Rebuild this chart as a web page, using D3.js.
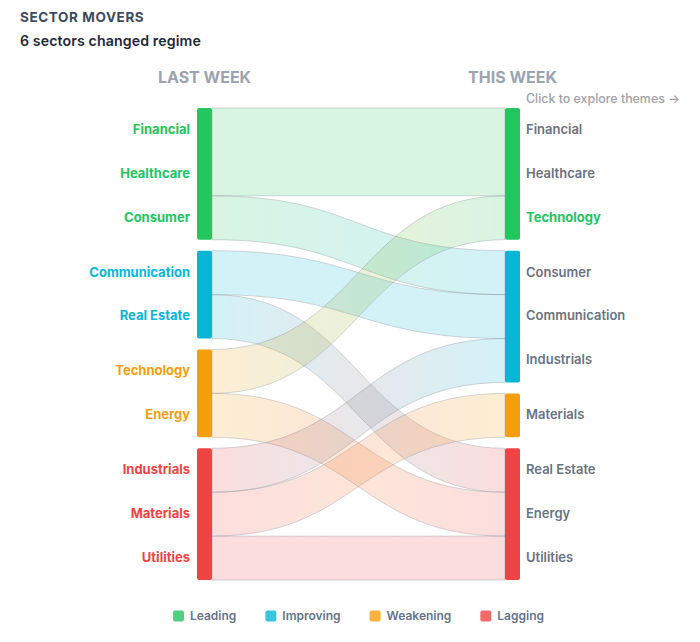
<!DOCTYPE html>
<html>
<head>
<meta charset="utf-8">
<script src="https://cdn.jsdelivr.net/npm/d3@7"></script>
<style>
  html, body { margin: 0; padding: 0; background: #fff; }
  svg { display: block; font-family: Inter, "Noto Sans", sans-serif; }
</style>
</head>
<body>
<div id="chart"></div>
<script>
// regimes and their colours
const regimes = ['Leading', 'Improving', 'Weakening', 'Lagging'];
const regimeColors = ['#22c55e', '#06b6d4', '#f59e0b', '#ef4444'];

// sectors in last-week order, with their regime last week and this week
const sectors = ['Financial', 'Healthcare', 'Consumer', 'Communication', 'Real Estate',
    'Technology', 'Energy', 'Industrials', 'Materials', 'Utilities'];
const lastWeekRegime = ['Leading', 'Leading', 'Leading', 'Improving', 'Improving',
    'Weakening', 'Weakening', 'Lagging', 'Lagging', 'Lagging'];
const thisWeekRegime = ['Leading', 'Leading', 'Improving', 'Improving', 'Lagging',
    'Leading', 'Lagging', 'Improving', 'Weakening', 'Lagging'];

const width = 700;
const height = 642;
const colorOf = d3.scaleOrdinal().domain(regimes).range(regimeColors);

const xLeft = 197, xRight = 505, barW = 15;
const gapUnits = 0.25;
const totalUnits = sectors.length + gapUnits * (regimes.length - 1);
const y = d3.scaleLinear().domain([0, totalUnits]).range([108, 580]);

const svg = d3.select('#chart')
    .append('svg')
    .attr('width', width)
    .attr('height', height);

// titles
svg.append('text')
    .attr('x', 20).attr('y', 22)
    .attr('font-size', 13.5).attr('font-weight', 700)
    .attr('letter-spacing', 0.6)
    .attr('fill', '#3f4a5c')
    .text('SECTOR MOVERS');
svg.append('text')
    .attr('x', 20).attr('y', 46)
    .attr('font-size', 14.2).attr('font-weight', 600)
    .attr('letter-spacing', 0.1)
    .attr('fill', '#1f2937')
    .text('6 sectors changed regime');

svg.append('text')
    .attr('x', xLeft + barW / 2).attr('y', 83)
    .attr('text-anchor', 'middle')
    .attr('font-size', 16).attr('font-weight', 700)
    .attr('fill', '#9ca3af')
    .text('LAST WEEK');
svg.append('text')
    .attr('x', xRight + barW / 2).attr('y', 83)
    .attr('text-anchor', 'middle')
    .attr('font-size', 16).attr('font-weight', 700)
    .attr('fill', '#9ca3af')
    .text('THIS WEEK');
svg.append('text')
    .attr('x', 526).attr('y', 103)
    .attr('font-size', 12.4).attr('font-weight', 500)
    .attr('fill', '#a1a1aa')
    .text('Click to explore themes \u2192');

// lay out one column: each sector gets one unit, regimes separated by a gap
function layout(regimeOf) {
    const order = [];
    regimes.forEach(r => {
        sectors.forEach((s, i) => { if (regimeOf[i] === r) order.push(i); });
    });
    const pos = {};
    const nodes = [];
    let u = 0;
    regimes.forEach(r => {
        const members = order.filter(i => regimeOf[i] === r);
        if (!members.length) return;
        const start = u;
        members.forEach(i => { pos[i] = u; u += 1; });
        nodes.push({ regime: r, u0: start, u1: u });
        u += gapUnits;
    });
    return { pos, nodes };
}

const left = layout(lastWeekRegime);
const right = layout(thisWeekRegime);

// aggregate flows regime -> regime
const links = d3.rollups(
    sectors.map((s, i) => i),
    idx => ({
        src: lastWeekRegime[idx[0]],
        tgt: thisWeekRegime[idx[0]],
        u0: d3.min(idx, i => left.pos[i]),
        v0: d3.min(idx, i => right.pos[i]),
        n: idx.length
    }),
    i => lastWeekRegime[i] + '>' + thisWeekRegime[i]
).map(d => d[1]);

const defs = svg.append('defs');
const x0 = xLeft + barW, x1 = xRight, xm = (x0 + x1) / 2;

links.forEach((l, k) => {
    const g = defs.append('linearGradient')
        .attr('id', 'lg' + k)
        .attr('gradientUnits', 'userSpaceOnUse')
        .attr('x1', x0).attr('x2', x1).attr('y1', 0).attr('y2', 0);
    g.append('stop').attr('offset', '0%').attr('stop-color', colorOf(l.src));
    g.append('stop').attr('offset', '100%').attr('stop-color', colorOf(l.tgt));
    l.id = 'lg' + k;
});

function ribbon(l) {
    const a0 = y(l.u0), a1 = y(l.u0 + l.n);
    const b0 = y(l.v0), b1 = y(l.v0 + l.n);
    return `M${x0},${a0}C${xm},${a0} ${xm},${b0} ${x1},${b0}` +
        `L${x1},${b1}C${xm},${b1} ${xm},${a1} ${x0},${a1}Z`;
}

svg.append('g')
    .selectAll('path')
    .data(links)
    .join('path')
    .attr('d', ribbon)
    .attr('fill', d => `url(#${d.id})`)
    .attr('fill-opacity', 0.18)
    .attr('stroke', '#8a8f99')
    .attr('stroke-opacity', 0.45)
    .attr('stroke-width', 0.8);

// node bars
function drawBars(col, x) {
    svg.append('g')
        .selectAll('rect')
        .data(col.nodes)
        .join('rect')
        .attr('x', x)
        .attr('y', d => y(d.u0))
        .attr('width', barW)
        .attr('height', d => y(d.u1) - y(d.u0))
        .attr('rx', 2)
        .attr('fill', d => colorOf(d.regime));
}
drawBars(left, xLeft);
drawBars(right, xRight);

// labels
svg.append('g')
    .selectAll('text')
    .data(sectors)
    .join('text')
    .attr('x', xLeft - 7)
    .attr('y', (s, i) => y(left.pos[i] + 0.5))
    .attr('dy', '0.3em')
    .attr('text-anchor', 'end')
    .attr('font-size', 13).attr('font-weight', 700)
    .attr('fill', (s, i) => colorOf(lastWeekRegime[i]))
    .text(s => s);

const isNewLeader = i => thisWeekRegime[i] === 'Leading' && lastWeekRegime[i] !== 'Leading';
svg.append('g')
    .selectAll('text')
    .data(sectors)
    .join('text')
    .attr('x', xRight + barW + 6)
    .attr('y', (s, i) => y(right.pos[i] + 0.5))
    .attr('dy', '0.3em')
    .attr('font-size', 13)
    .attr('font-weight', (s, i) => isNewLeader(i) ? 700 : 600)
    .attr('fill', (s, i) => isNewLeader(i) ? colorOf('Leading') : '#6b7280')
    .text(s => s);

// legend, centred under the chart
const legend = svg.append('g');
const items = legend.selectAll('g')
    .data(regimes)
    .join('g');
items.append('rect')
    .attr('width', 11).attr('height', 11)
    .attr('y', -5.5)
    .attr('rx', 2)
    .attr('fill', d => colorOf(d))
    .attr('fill-opacity', 0.8);
items.append('text')
    .attr('x', 17)
    .attr('dy', '0.35em')
    .attr('font-size', 12).attr('font-weight', 600)
    .attr('fill', '#64748b')
    .text(d => d);
let cursor = 0;
items.each(function () {
    const w = 17 + this.querySelector('text').getComputedTextLength();
    d3.select(this).attr('transform', `translate(${cursor},0)`);
    cursor += w + 29;
});
const legendW = cursor - 29;
legend.attr('transform', `translate(${xLeft + (xRight + barW - xLeft) / 2 - legendW / 2},616)`);
</script>
</body>
</html>
